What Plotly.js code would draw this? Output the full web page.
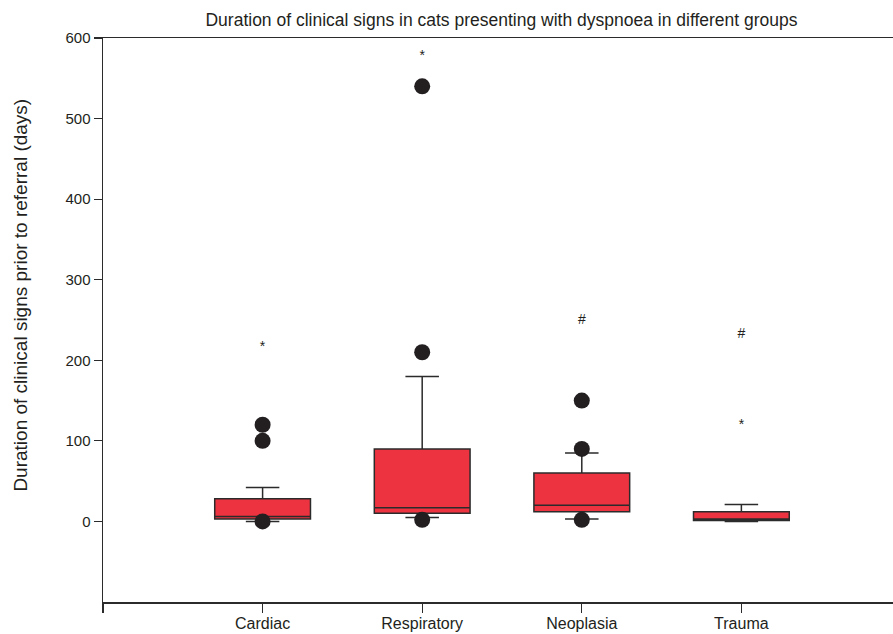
<!DOCTYPE html>
<html>
<head>
<meta charset="utf-8">
<script src="https://cdn.plot.ly/plotly-3.0.1.min.js"></script>
<style>html,body{margin:0;padding:0;background:#fff;}#chart{width:893px;height:634px;}</style>
</head>
<body>
<div id="chart"></div>
<script>
const categories = ["Cardiac", "Respiratory", "Neoplasia", "Trauma"];
const positions = [0, 1, 2, 3];
const q1 = [3, 10, 12, 1];
const median = [6, 17, 20, 3];
const q3 = [28, 90, 60, 12];
const lowerWhisker = [0, 5, 3, 0];
const upperWhisker = [42, 180, 85, 21];

const outlierX = [0, 0, 0, 1, 1, 1, 2, 2, 2];
const outlierY = [0, 100, 120, 2, 210, 540, 2, 90, 150];

const markX = [0, 1, 2, 3, 3];
const markY = [216, 577, 249, 119, 232];
const markText = ["*", "*", "#", "*", "#"];

const yTicks = [0, 100, 200, 300, 400, 500, 600];
const xTickVals = [-1, 0, 1, 2, 3];
const xTickText = [""].concat(categories);

const titleText = "Duration of clinical signs in cats presenting with dyspnoea in different groups";
const yTitleText = "Duration of clinical signs prior to referral (days)";

const lineColor = "#2b2b2b";
const textColor = "#231f20";
const fontFam = "Liberation Sans, Arial, sans-serif";

const traces = [
  {
    type: "box",
    x: positions,
    q1: q1,
    median: median,
    q3: q3,
    lowerfence: lowerWhisker,
    upperfence: upperWhisker,
    boxpoints: false,
    width: 0.6,
    whiskerwidth: 0.35,
    fillcolor: "#ee3340",
    line: {color: lineColor, width: 1.5},
    hoverinfo: "skip",
    showlegend: false
  },
  {
    type: "scatter",
    mode: "markers",
    x: outlierX,
    y: outlierY,
    marker: {size: 16, color: textColor},
    showlegend: false,
    hoverinfo: "skip"
  },
  {
    type: "scatter",
    mode: "text",
    x: markX,
    y: markY,
    text: markText,
    textposition: "middle center",
    textfont: {family: fontFam, size: 14, color: textColor},
    showlegend: false,
    hoverinfo: "skip"
  }
];

const layout = {
  width: 893,
  height: 634,
  margin: {l: 103, r: 0, t: 38, b: 32},
  paper_bgcolor: "#fff",
  plot_bgcolor: "#fff",
  font: {family: fontFam, size: 15, color: textColor},
  title: {
    text: titleText,
    font: {family: fontFam, size: 17.5, color: textColor},
    x: 0.5616, xanchor: "center",
    y: 0.968, yanchor: "middle"
  },
  xaxis: {
    range: [-1.0, 3.95],
    tickmode: "array",
    tickvals: xTickVals,
    ticktext: xTickText,
    ticks: "outside",
    ticklen: 9,
    tickwidth: 1.2,
    tickcolor: lineColor,
    showline: true,
    linecolor: lineColor,
    linewidth: 1.5,
    mirror: true,
    showgrid: false,
    zeroline: false,
    ticklabelstandoff: -3,
    tickfont: {family: fontFam, size: 16, color: textColor}
  },
  yaxis: {
    range: [-100, 600],
    tickmode: "array",
    tickvals: yTicks,
    ticks: "outside",
    ticklen: 8,
    tickwidth: 1.2,
    tickcolor: lineColor,
    showline: true,
    linecolor: lineColor,
    linewidth: 1.5,
    showgrid: false,
    zeroline: false,
    tickfont: {family: fontFam, size: 15, color: textColor}
  },
  annotations: [
    {
      text: yTitleText,
      xref: "paper", yref: "paper",
      x: -0.1038, y: 0.545,
      xanchor: "center", yanchor: "middle",
      textangle: -90,
      showarrow: false,
      font: {family: fontFam, size: 19, color: textColor}
    }
  ]
};

Plotly.newPlot("chart", traces, layout, {staticPlot: true, displayModeBar: false});
</script>
</body>
</html>
